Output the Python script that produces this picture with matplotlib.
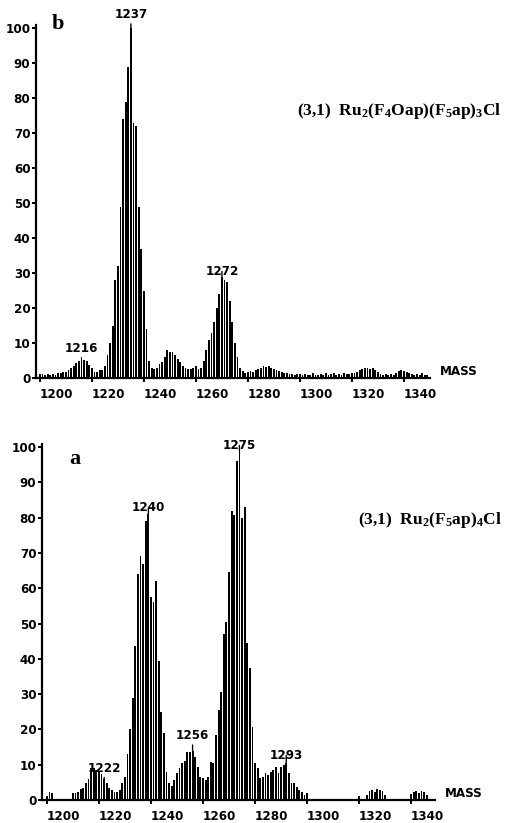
import matplotlib
matplotlib.use("Agg")
import matplotlib.pyplot as plt
import matplotlib.transforms as mtransforms
from matplotlib import font_manager

# ---- data (relative abundance, %) ----
mass_start = 1200

# panel b: Ru2(F4Oap)(F5ap)3Cl, masses 1200..1349
abund_b = [
    1.0, 1.2, 1.0, 1.2, 1.0, 1.2, 1.0, 1.3, 1.5, 1.6,
    1.8, 2.4, 2.8, 3.3, 4.2, 5.0, 5.8, 5.2, 4.8, 3.7,
    2.8, 1.8, 1.6, 2.2, 2.4, 3.5, 6.5, 10, 15, 28,
    32, 49, 74, 79, 89, 100, 73, 72, 49, 37,
    25, 14, 5.0, 3.0, 2.5, 3.0, 4.0, 4.5, 6.0, 8.0,
    7.5, 7.5, 6.5, 5.5, 4.5, 3.5, 2.8, 2.5, 2.5, 3.0,
    3.5, 2.5, 3.0, 5.0, 8.0, 11, 13, 16, 20, 24,
    29, 28, 27.5, 22, 16, 10, 6.0, 3.0, 2.0, 1.5,
    1.8, 2.0, 1.8, 2.2, 2.5, 3.0, 3.3, 3.2, 3.4, 3.0,
    2.6, 2.2, 2.0, 1.6, 1.4, 1.5, 1.2, 1.2, 1.0, 1.2,
    1.0, 0.8, 1.2, 1.0, 0.9, 1.3, 1.0, 0.8, 1.2, 1.0,
    1.3, 0.9, 1.1, 1.4, 1.0, 1.2, 0.9, 1.3, 1.1, 1.2,
    1.4, 1.5, 1.8, 2.3, 2.5, 2.8, 3.0, 2.6, 2.8, 2.2,
    1.6, 1.2, 1.0, 1.1, 0.9, 1.2, 1.0, 1.5, 2.0, 2.3,
    2.0, 1.8, 1.4, 1.2, 1.0, 1.2, 1.0, 1.4, 1.0, 0.8,
]

# panel a: Ru2(F5ap)4Cl, masses 1200..1349
abund_a = [
    0, 2.4, 1.9, 0, 0, 0, 0, 0, 0, 0,
    2.0, 2.0, 2.4, 3.0, 3.5, 4.7, 6.0, 9.0, 9.0, 8.5,
    8.0, 7.5, 6.0, 4.9, 3.3, 2.8, 2.4, 2.4, 2.8, 4.7,
    6.6, 13, 20, 29, 43.5, 64, 69, 67, 79, 81,
    57.6, 56, 62, 39.5, 25, 19, 8.0, 4.7, 4.0, 5.7,
    7.6, 9.0, 10.4, 11, 13.7, 13.7, 14, 12.3, 9.4, 6.6,
    6.2, 5.7, 6.6, 10.8, 10.4, 18.4, 25.5, 30.7, 47, 50.5,
    64.7, 82, 80.7, 96, 99, 80, 83, 44.5, 37.4, 20.7,
    10.4, 9.0, 6.2, 6.4, 7.6, 7.0, 8.0, 8.5, 9.4, 7.6,
    9.4, 9.9, 10.4, 7.6, 4.8, 4.8, 3.8, 2.8, 2.4, 1.5,
    2.0, 0, 0, 0, 0, 0, 0, 0, 0, 0,
    0, 0, 0, 0, 0, 0, 0, 0, 0, 0,
    0, 0, 0, 1.5, 2.6, 2.8, 2.2, 3.2, 2.8, 2.5,
    1.5, 0, 0, 0, 0, 0, 0, 0, 0, 0,
    1.8, 2.2, 2.6, 2.0, 2.6, 2.2, 1.5, 0, 0, 0,
]

masses_b = list(range(mass_start, mass_start + len(abund_b)))
masses_a = list(range(mass_start, mass_start + len(abund_a)))

# labelled peaks (axis mass, printed label)
peaks_b_mass = [1216, 1235, 1270]
peaks_b_text = ["1216", "1237", "1272"]
peaks_a_mass = [1222, 1239, 1256, 1274, 1292]
peaks_a_text = ["1222", "1240", "1256", "1275", "1293"]

xtick_vals = [1200, 1220, 1240, 1260, 1280, 1300, 1320, 1340]
xtick_text = ["1200", "1220", "1240", "1260", "1280", "1300", "1320", "1340"]
ytick_vals = [0, 10, 20, 30, 40, 50, 60, 70, 80, 90, 100]
ytick_text = ["0", "10", "20", "30", "40", "50", "60", "70", "80", "90", "100"]

title_b = r"(3,1)  Ru$_2$(F$_4$Oap)(F$_5$ap)$_3$Cl"
title_a = r"(3,1)  Ru$_2$(F$_5$ap)$_4$Cl"

# ---- style ----
# narrow instrument-style digits if a condensed face exists, else Liberation Sans
condensed = [f for f in font_manager.fontManager.ttflist
             if f.name == "DejaVu Sans" and f.stretch == "condensed" and f.weight == 700]
if condensed:
    lab_font = font_manager.FontProperties(family="DejaVu Sans", stretch="condensed",
                                           weight="bold", size=9.5)
else:
    lab_font = font_manager.FontProperties(family="Liberation Sans", weight="bold", size=8.5)

plt.rcParams["font.family"] = ["Liberation Sans", "DejaVu Sans"]
plt.rcParams["mathtext.fontset"] = "custom"
plt.rcParams["mathtext.rm"] = "Liberation Serif:bold"
plt.rcParams["mathtext.it"] = "Liberation Serif:bold"
plt.rcParams["mathtext.bf"] = "Liberation Serif:bold"
serif = ["Liberation Serif", "DejaVu Serif"]

W, H = 511, 823
fig = plt.figure(figsize=(W / 100, H / 100), dpi=100)


def draw_panel(rect, masses, abund, pk_mass, pk_text, pk_gap, xlim, letter, title, title_y):
    ax = fig.add_axes(rect)
    ax.bar(masses, abund, width=0.7, color="black", linewidth=0)
    ax.set_xlim(*xlim)
    ax.set_ylim(0, 101)
    for s in ["top", "right"]:
        ax.spines[s].set_visible(False)
    ax.spines["left"].set_linewidth(1.6)
    ax.spines["bottom"].set_linewidth(1.6)

    ax.set_xticks(xtick_vals)
    ax.set_xticklabels(xtick_text, fontproperties=lab_font, ha="left")
    shift = mtransforms.ScaledTranslation(-2 / 100, 0, fig.dpi_scale_trans)
    for lab in ax.get_xticklabels():
        lab.set_transform(lab.get_transform() + shift)
    ax.tick_params(axis="x", direction="inout", length=6, width=1.4, pad=4)

    ax.set_yticks(ytick_vals)
    ax.set_yticklabels(ytick_text, fontproperties=lab_font)
    ax.tick_params(axis="y", direction="out", length=3, width=1.4, pad=1)

    for m, t, g in zip(pk_mass, pk_text, pk_gap):
        h = abund[masses.index(m)]
        ax.annotate(t, xy=(m, h), xytext=(0, g), textcoords="offset points",
                    ha="center", va="bottom", fontproperties=lab_font,
                    arrowprops=dict(arrowstyle="-", lw=1.0, color="black",
                                    shrinkA=0, shrinkB=0))

    ax.text(1.025, 0.0, "MASS", transform=ax.transAxes, fontproperties=lab_font,
            ha="left", va="bottom")
    ax.text(letter[0], letter[1], letter[2], transform=ax.transAxes,
            fontsize=16, fontweight="bold", family=serif, ha="left", va="top")
    fig.text(0.982, title_y, title, fontsize=12.5, fontweight="bold",
             family=serif, ha="right", va="center")
    return ax


draw_panel([36 / W, 1 - 378 / H, 394 / W, 353.5 / H], masses_b, abund_b,
           peaks_b_mass, peaks_b_text, [2, 5, -1], (1198.5, 1350),
           (0.04, 1.03, "b"), title_b, 1 - 111 / H)
draw_panel([42 / W, 1 - 800 / H, 393 / W, 356.5 / H], masses_a, abund_a,
           peaks_a_mass, peaks_a_text, [3, 0, 6, -1, 1], (1198.1, 1349.2),
           (0.07, 0.985, "a"), title_a, 1 - 520 / H)

fig.savefig("out.png", dpi=100)
